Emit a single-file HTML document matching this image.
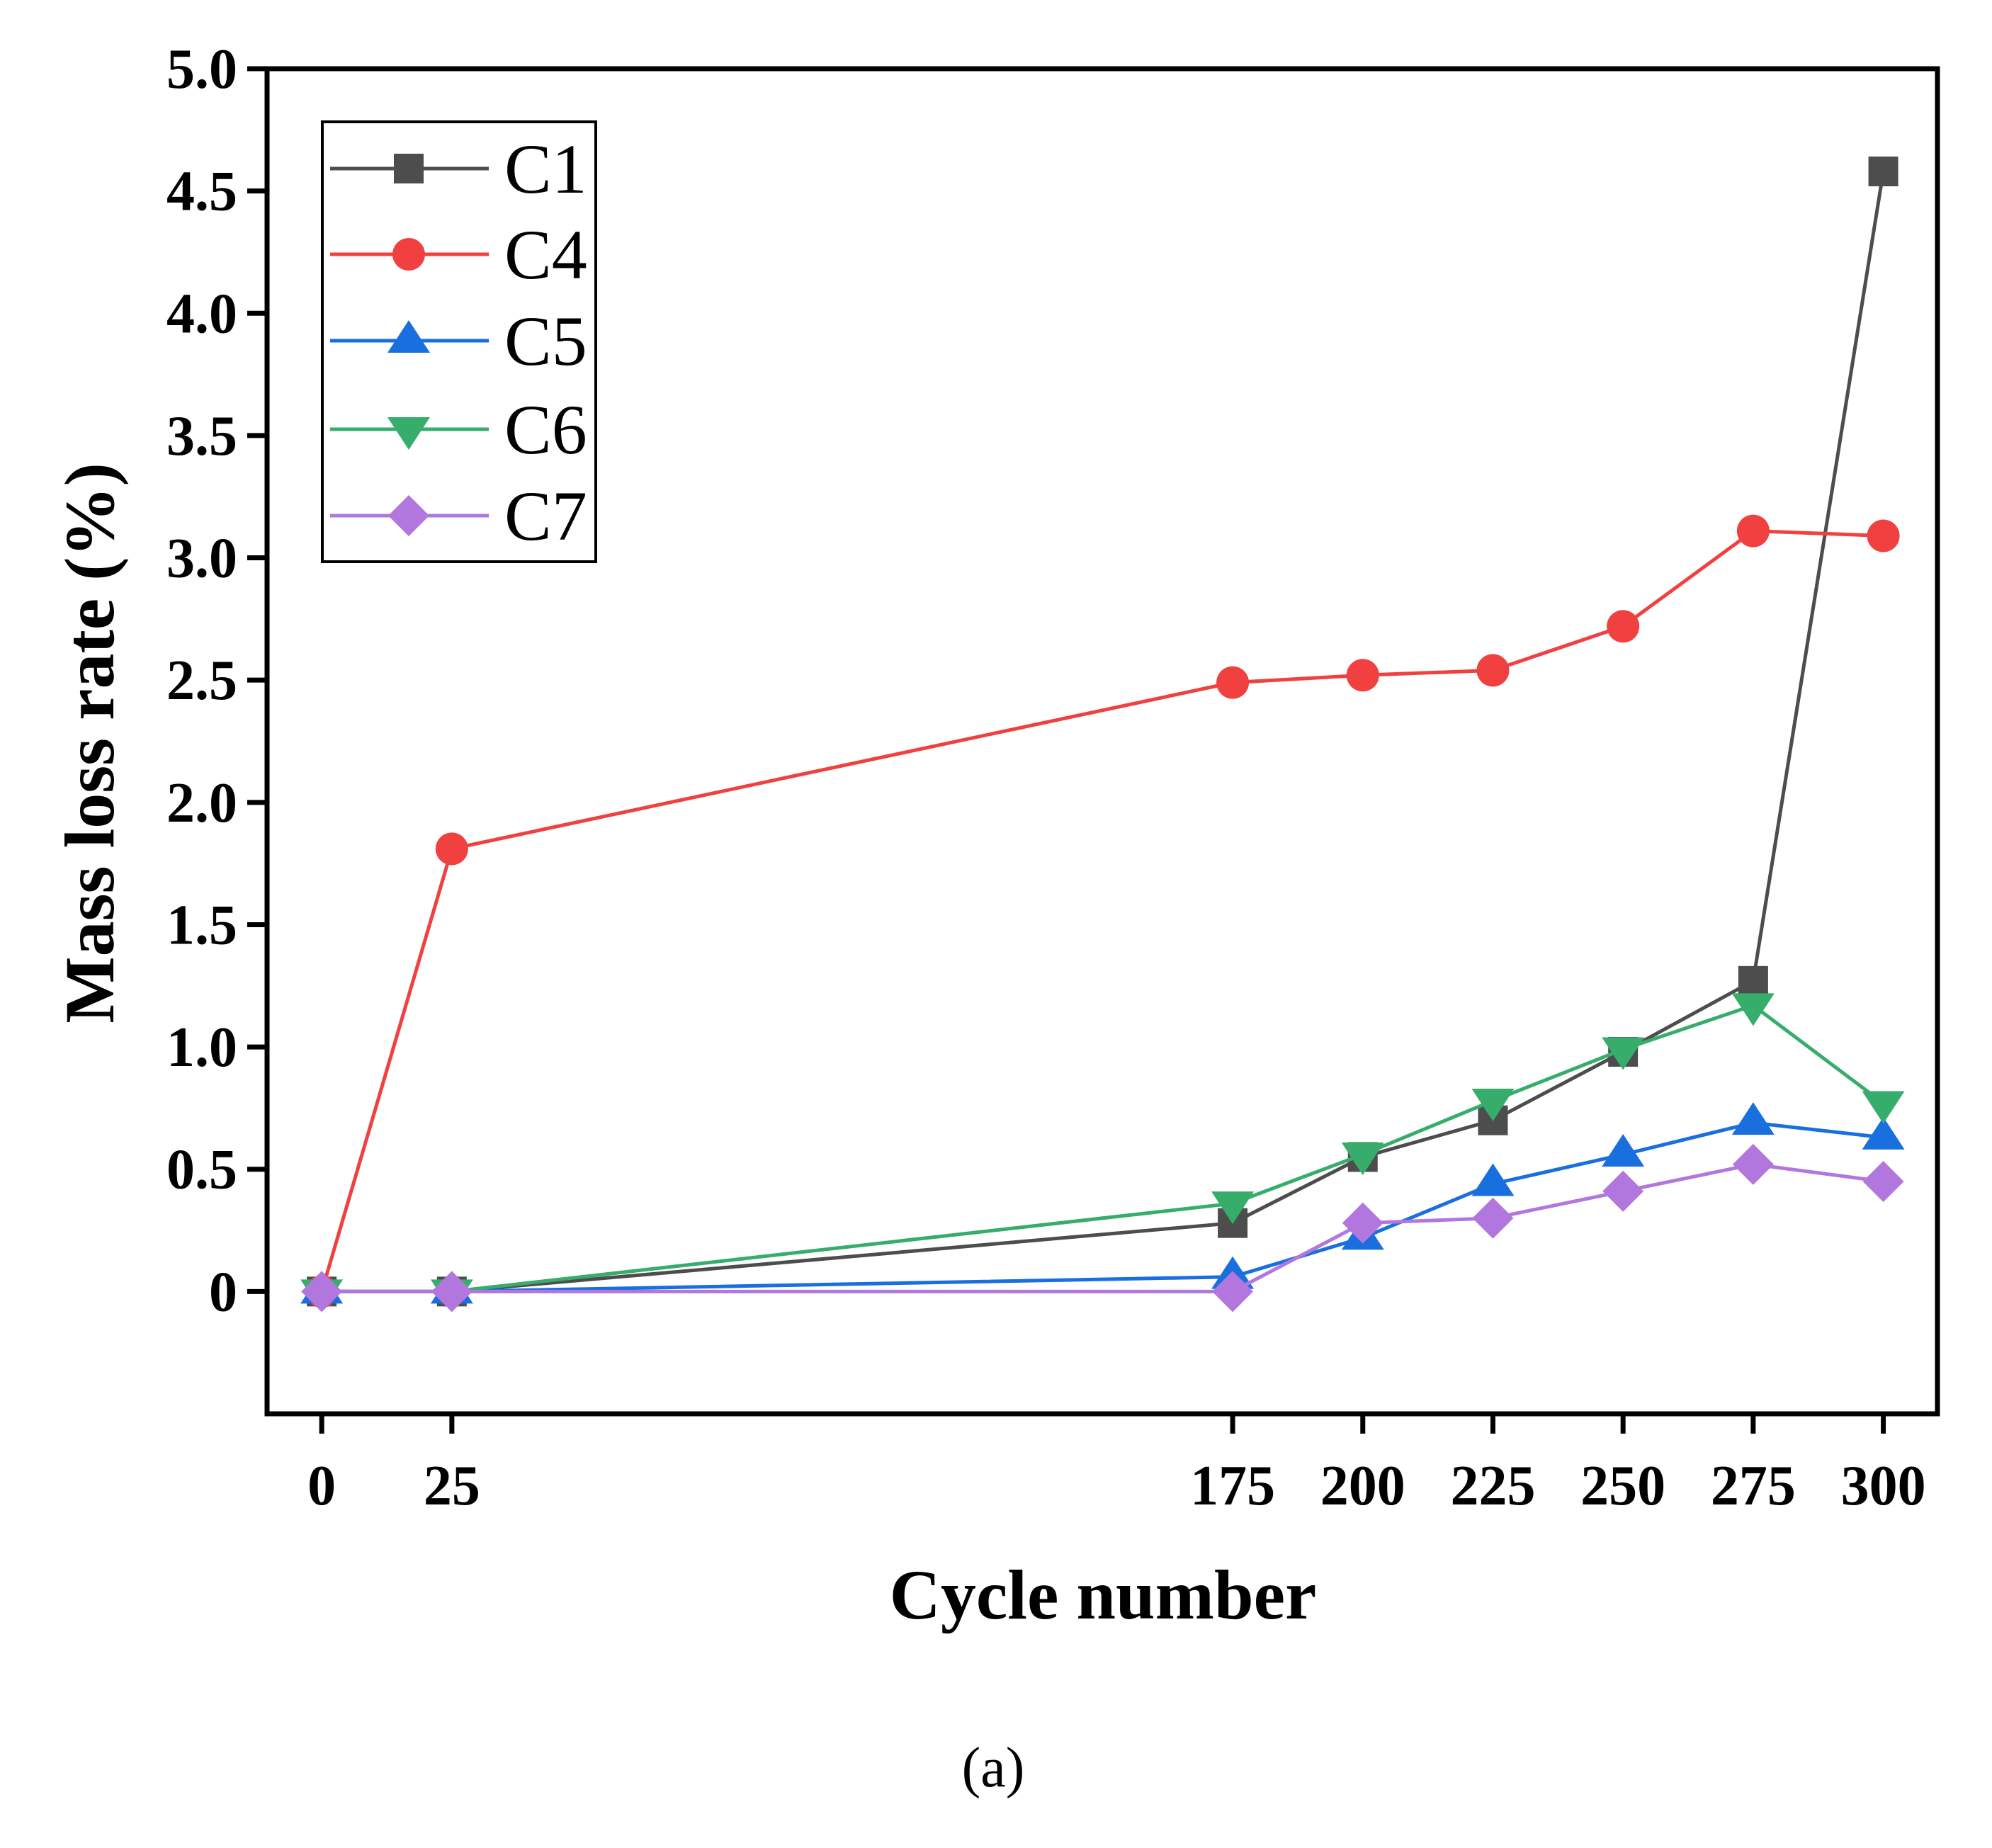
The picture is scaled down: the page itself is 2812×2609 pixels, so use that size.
<!DOCTYPE html>
<html><head><meta charset="utf-8"><style>
body{margin:0;background:#fff}
svg{display:block;font-family:"Liberation Serif","Times New Roman",serif}
</style></head><body>
<svg id="chart" width="2812" height="2609" viewBox="0 0 2812 2609">
<g id="marks"></g>
<g id="axes"></g>
</svg>
<script>
const cycles=[0,25,175,200,225,250,275,300];
const xTicks=[0,25,175,200,225,250,275,300];
const yTicks=[0,0.5,1.0,1.5,2.0,2.5,3.0,3.5,4.0,4.5,5.0];
const yTickLabels=["0","0.5","1.0","1.5","2.0","2.5","3.0","3.5","4.0","4.5","5.0"];
const seriesNames=["C1","C4","C5","C6","C7"];
const c1=[0,0,0.28,0.55,0.70,0.98,1.27,4.58];
const c4=[0,1.81,2.49,2.52,2.54,2.72,3.11,3.09];
const c5=[0,0,0.06,0.22,0.44,0.56,0.69,0.63];
const c6=[0,0,0.36,0.56,0.78,0.99,1.17,0.77];
const c7=[0,0,0,0.28,0.30,0.41,0.52,0.45];

const NS="http://www.w3.org/2000/svg";
const L=377,R=2735,T=97,B=1996;
const X0=-10.5,X1=310.4,Y0=-0.5,Y1=5.0;
const sx=v=>L+(v-X0)/(X1-X0)*(R-L);
const sy=v=>B-(v-Y0)/(Y1-Y0)*(B-T);
function mk(tag,attrs,parent){const e=document.createElementNS(NS,tag);for(const k in attrs)e.setAttribute(k,attrs[k]);parent.appendChild(e);return e;}
const axes=document.getElementById('axes'),marks=document.getElementById('marks');

const styles=[
 {color:"#4d4d4d",shape:"square",data:c1},
 {color:"#f04040",shape:"circle",data:c4},
 {color:"#1a6fdf",shape:"up",data:c5},
 {color:"#37ad6b",shape:"down",data:c6},
 {color:"#b177de",shape:"diamond",data:c7}];
function marker(shape,x,y,color,parent){
 let e;
 if(shape==="square")e=mk('rect',{x:x-21,y:y-21,width:42,height:42,fill:color},parent);
 else if(shape==="circle")e=mk('circle',{cx:x,cy:y,r:23,fill:color},parent);
 else if(shape==="up")e=mk('polygon',{points:`${x},${y-29} ${x-30},${y+17} ${x+30},${y+17}`,fill:color},parent);
 else if(shape==="down")e=mk('polygon',{points:`${x},${y+29} ${x-30},${y-17} ${x+30},${y-17}`,fill:color},parent);
 else e=mk('polygon',{points:`${x},${y-29} ${x+29},${y} ${x},${y+29} ${x-29},${y}`,fill:color},parent);
 return e;
}
styles.forEach((s,si)=>{
 const g=mk('g',{},marks);
 
 
 const pts=cycles.map((c,i)=>sx(c)+','+sy(s.data[i])).join(' ');
 const pl=mk('polyline',{points:pts,fill:'none',stroke:s.color,'stroke-width':5},g);
 
 
 cycles.forEach((c,i)=>{
  const m=marker(s.shape,sx(c),sy(s.data[i]),s.color,g);
  
  
 });
});

const fr=mk('rect',{x:L,y:T,width:R-L,height:B-T,fill:'none',stroke:'#000','stroke-width':7},axes);


yTicks.forEach((v,i)=>{
 const y=sy(v);
 const t=mk('line',{x1:L-28,x2:L,y1:y,y2:y,stroke:'#000','stroke-width':7},axes);
 
 
 const tx=mk('text',{x:L-42,y:y+27,'text-anchor':'end','font-size':80,'font-weight':'bold'},axes);
 tx.textContent=yTickLabels[i];
 
 
});
xTicks.forEach(v=>{
 const x=sx(v);
 const t=mk('line',{x1:x,x2:x,y1:B,y2:B+28,stroke:'#000','stroke-width':7},axes);
 
 
 const tx=mk('text',{x:x,y:B+128,'text-anchor':'middle','font-size':80,'font-weight':'bold'},axes);
 tx.textContent=String(v);
 
 
});
const xt=mk('text',{x:1557,y:2285,'text-anchor':'middle','font-size':100,'font-weight':'bold'},axes);
xt.textContent="Cycle number";


const yt=mk('text',{x:0,y:0,'text-anchor':'middle','font-size':100,'font-weight':'bold',transform:'translate(160,1049) rotate(-90)'},axes);
yt.textContent="Mass loss rate (%)";


const cap=mk('text',{x:1402,y:2522,'text-anchor':'middle','font-size':80},axes);
cap.textContent="(a)";



const lg=mk('g',{},axes);


mk('rect',{x:455,y:172,width:386,height:621,fill:'#fff',stroke:'#000','stroke-width':4},lg);
const rows=[238,359,481,606,728];
styles.forEach((s,i)=>{
 const e=mk('g',{},lg);
 
 
 mk('line',{x1:466,x2:690,y1:rows[i],y2:rows[i],stroke:s.color,'stroke-width':5},e);
 marker(s.shape,577,rows[i],s.color,e);
 const t=mk('text',{x:712,y:rows[i]+34,'font-size':100},e);
 t.textContent=seriesNames[i];
});
</script>
</body></html>
